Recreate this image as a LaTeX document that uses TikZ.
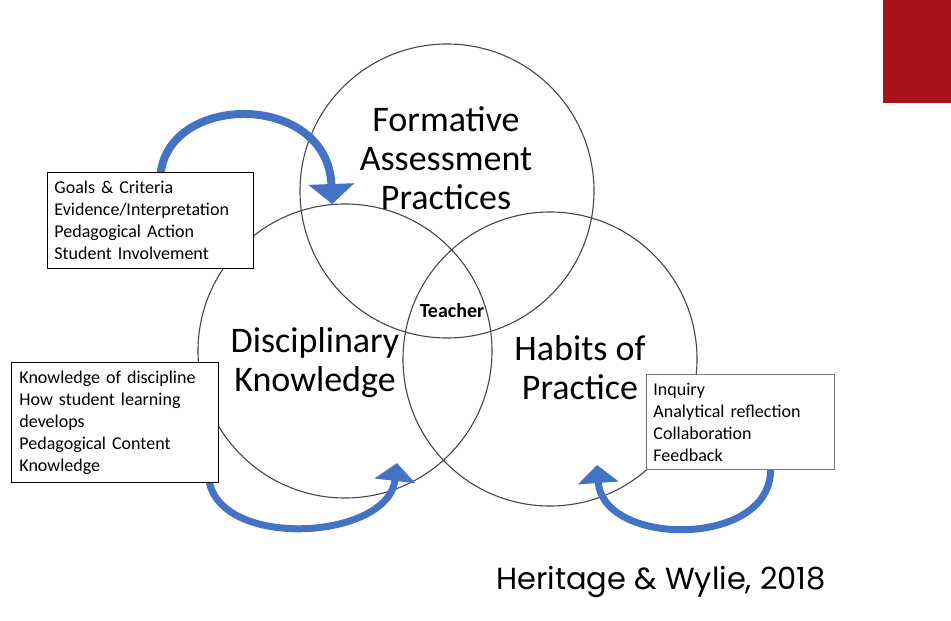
\documentclass[tikz,border=0pt]{standalone}
\usepackage{fontspec}
\setmainfont{Carlito}
\newfontfamily\citefont{Poppins}
\usetikzlibrary{arrows.meta,backgrounds}
\definecolor{arrowblue}{RGB}{68,114,196}
\definecolor{slidered}{RGB}{169,20,28}
\definecolor{ringgray}{RGB}{70,70,70}
\definecolor{boxgray}{RGB}{120,120,120}

\begin{document}
\begin{tikzpicture}[x=1pt,y=-1pt,
		ring/.style={circle, draw=ringgray, line width=1.1pt, minimum size=294pt, inner sep=0pt},
		ringlabel/.style={align=center, font=\fontsize{36}{39}\selectfont},
		listbox/.style={draw, fill=white, line width=0.9pt, anchor=north west, align=left, inner xsep=7pt, font=\fontsize{18}{22}\selectfont},
		loop arrow/.style={draw=arrowblue, line width=7pt, -{Triangle[width=40pt,length=18pt]}}]
			%%%%% START %%%%%
			
			\useasboundingbox (0,0) rectangle (951,621);
			\fill[slidered] (883,0) rectangle (951,103);
			
			% lists
			\node[listbox, text width=192pt, minimum height=96pt] (goals) at (47,172) {Goals \& Criteria\\Evidence/Interpretation\\Pedagogical Action\\Student Involvement};
			\node[listbox, text width=191pt, inner xsep=8pt, minimum height=120pt] (kd) at (11,362) {Knowledge of discipline\\How student learning\\develops\\Pedagogical Content\\Knowledge};
			\node[listbox, draw=boxgray, text width=174pt, minimum height=95pt] (ip) at (646,374) {Inquiry\\Analytical reflection\\Collaboration\\Feedback};
			
			\begin{scope}[on background layer]
				\node[ring] (fap) at (447,191) {};
				\node[ring] (dk) at (345,351) {};
				\node[ring] (hp) at (550,359) {};
				
				\coordinate (dktip) at (397,463);
				\coordinate (hptip) at (597,465);
				
				\draw[loop arrow, line width=8pt, -{Triangle[width=45pt,length=20pt]}] ([xshift=10pt,yshift=-3pt]goals.north) .. controls (168,92) and (328,92) .. (dk.95);
				\draw[loop arrow] ([xshift=-10pt,yshift=3pt]kd.south east) .. controls (220,550) and (388,540) .. (dktip);
				\draw[loop arrow] ([xshift=30pt,yshift=3pt]ip.south) .. controls (775,548) and (603,548) .. (hptip);
			\end{scope}
			
			% circle labels
			\node[ringlabel] (faplabel) at (446,158) {Formative\\Assessment\\Practices};
			\node[ringlabel] (dklabel) at (315,363) {Disciplinary\\Knowledge};
			\node[ringlabel] (hplabel) at (580,368) {Habits of\\Practice};
			\node[font=\fontsize{20}{22}\selectfont\bfseries] (teacher) at (452,311) {Teacher};
			
			\node[font=\citefont\fontsize{30.5}{34}\selectfont] (cite) at (661,582) {Heritage \& Wylie, 2018};
			
			%%%%% END %%%%%
\end{tikzpicture}
\end{document}
